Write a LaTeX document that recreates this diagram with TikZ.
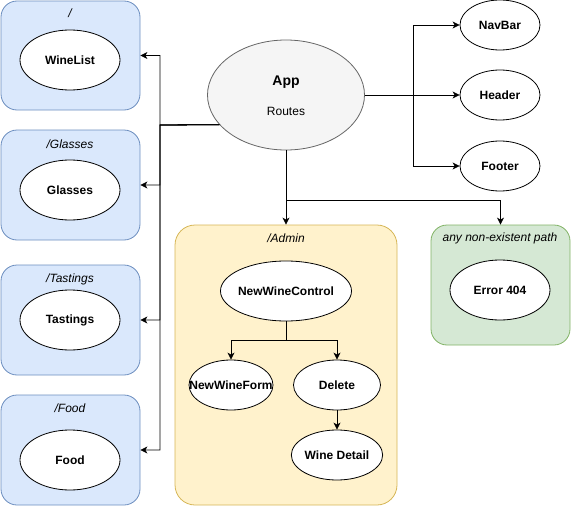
\documentclass[tikz,border=0pt]{standalone}
\usepackage{fontspec}
\setmainfont{Liberation Sans}
\usetikzlibrary{shapes,arrows.meta,positioning,calc}

\definecolor{bluefill}{HTML}{DAE8FC}
\definecolor{blueline}{HTML}{6C8EBF}
\definecolor{yelfill}{HTML}{FFF2CC}
\definecolor{yelline}{HTML}{D6B656}
\definecolor{grnfill}{HTML}{D5E8D4}
\definecolor{grnline}{HTML}{82B366}
\definecolor{appfill}{HTML}{F5F5F5}
\definecolor{appline}{HTML}{666666}

\tikzset{
  routebox/.style={draw=blueline, fill=bluefill, rounded corners=16pt, line width=0.8pt, inner sep=0pt},
  comp/.style={draw, ellipse, fill=white, line width=0.8pt, inner sep=0pt, minimum width=100pt, minimum height=60pt, font=\fontsize{12}{14}\selectfont\bfseries},
  smallcomp/.style={comp, minimum width=80pt, minimum height=50pt},
  path label/.style={font=\fontsize{12}{14}\selectfont\itshape},
  arr/.style={-{Stealth[length=7pt,width=7pt,inset=2pt]}, line width=0.8pt}
}

\begin{document}
\begin{tikzpicture}[x=1pt, y=-1pt]
\useasboundingbox (0,0) rectangle (571,514);

% Route boxes on the left
\node[routebox, minimum width=139pt, minimum height=109pt] (rootbox) at (70.5,55.5) {};
\node[path label] (rootlbl) at (70,13) {/};
\node[comp] (winelist) at (70,60) {WineList};

\node[routebox, minimum width=139pt, minimum height=110pt] (glassbox) at (70.5,185) {};
\node[path label] (glasslbl) at (70,144) {/Glasses};
\node[comp] (glasses) at (70,190) {Glasses};

\node[routebox, minimum width=139pt, minimum height=110pt] (tastebox) at (70.5,320) {};
\node[path label] (tastelbl) at (70,279) {/Tastings};
\node[comp] (tastings) at (70,320) {Tastings};

\node[routebox, minimum width=139pt, minimum height=110pt] (foodbox) at (70.5,450) {};
\node[path label] (foodlbl) at (70,408) {/Food};
\node[comp] (food) at (70,460) {Food};

% App
\node[ellipse, draw=appline, fill=appfill, line width=0.8pt, minimum width=157pt, minimum height=110pt] (app) at (286,95) {};
\node[font=\fontsize{14}{16}\selectfont\bfseries] (apptitle) at (286,82) {App};
\node[font=\fontsize{12}{14}\selectfont] (appsub) at (286,111) {Routes};

% Layout parts
\node[smallcomp] (navbar) at (500,25) {NavBar};
\node[smallcomp] (header) at (500,95) {Header};
\node[smallcomp] (footer) at (500,166) {Footer};

% Admin box
\node[draw=yelline, fill=yelfill, rounded corners=20pt, line width=0.8pt, minimum width=222pt, minimum height=280pt] (adminbox) at (286,365) {};
\node[path label] (adminlbl) at (286,238) {/Admin};
\node[comp, minimum width=131pt] (nwc) at (286,291) {\makebox[0pt]{NewWineControl}};
\node[smallcomp, minimum width=84pt] (nwform) at (231,385) {\makebox[0pt]{NewWineForm}};
\node[smallcomp, minimum width=87pt] (delete) at (337,385) {Delete};
\node[smallcomp, minimum width=90pt] (detail) at (337,455) {Wine Detail};

% Error box
\node[draw=grnline, fill=grnfill, rounded corners=16pt, line width=0.8pt, minimum width=139pt, minimum height=120pt] (errbox) at (500.5,285) {};
\node[path label] (errlbl) at (500,238) {any non-existent path};
\node[comp] (error) at (500,290) {Error 404};

% Connectors
\coordinate (lbus) at (160,125);
\coordinate (rbus) at (413,95);
\coordinate (dbus) at (286,200);
\coordinate (abus) at (286,340);

\foreach \b in {rootbox,glassbox,tastebox,foodbox}
  \draw[arr] (app.204.5) -- (lbus) |- (\b.east);

\draw[arr] (app.east) -- (header.west);
\draw[arr] (rbus) |- (navbar.west);
\draw[arr] (rbus) |- (footer.west);

\draw[arr] (app.south) -- (adminbox.north);
\draw[arr] (dbus) -| (errbox.north);

\draw[line width=0.8pt] (nwc.south) -- (abus);
\draw[arr] (abus) -| (nwform.north);
\draw[arr] (abus) -| (delete.north);
\draw[arr] (delete.south) -- (detail.north);

\end{tikzpicture}
\end{document}
